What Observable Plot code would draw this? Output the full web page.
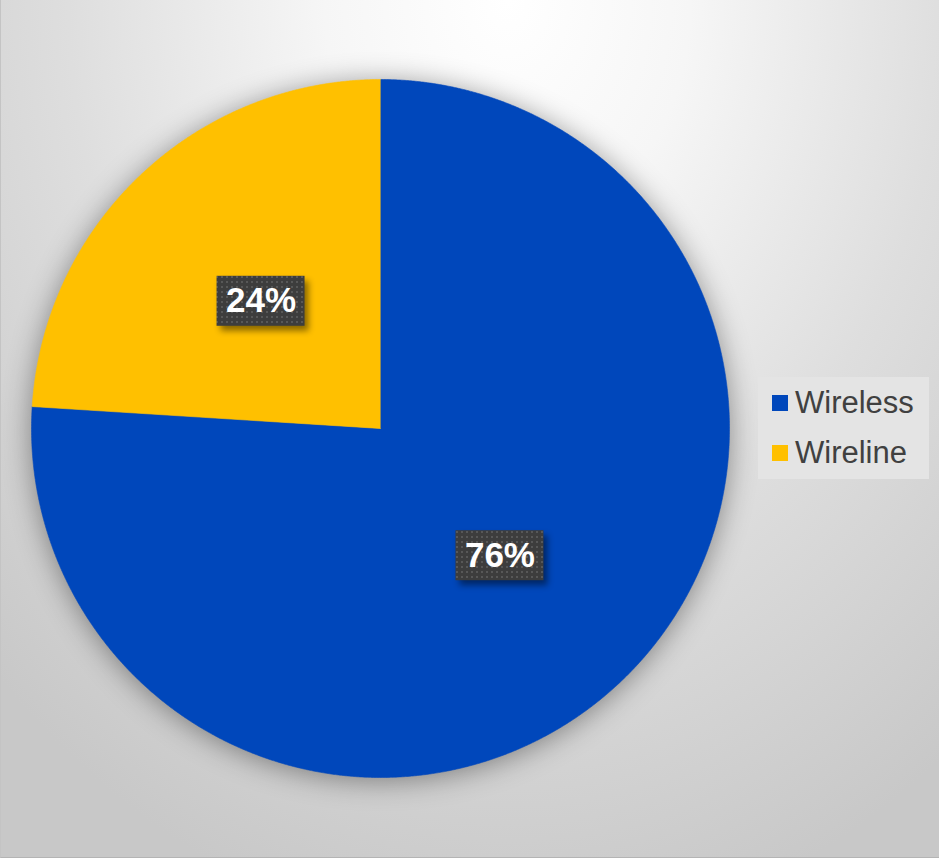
<!DOCTYPE html>
<html>
<head>
<meta charset="utf-8">
<script src="https://cdn.jsdelivr.net/npm/d3@7"></script>
<script src="https://cdn.jsdelivr.net/npm/@observablehq/plot@0.6"></script>
<style>
  html, body { margin: 0; padding: 0; background: #ffffff; }
  #frame {
    position: relative;
    width: 938px; height: 857px;
    border-left: 1px solid #c4c4c4;
    border-bottom: 1px solid #b4b4b4;
    background: radial-gradient(ellipse 78% 110% at 54% 0%, #ffffff 0%, #f6f6f6 25%, #dedede 60%, #c8c8c8 100%);
    overflow: hidden;
    font-family: "Liberation Sans", Arial, sans-serif;
  }
  #chart { position: absolute; left: -1px; top: 0; }
  #legend {
    position: absolute; left: 757px; top: 377px;
    width: 171px; height: 102px;
    background: #e4e4e4;
  }
  .item { position: absolute; left: 14px; height: 34px; display: flex; align-items: center; }
  .sw { width: 16px; height: 16px; margin-right: 7px; }
  .lab { font-size: 31px; color: #404040; line-height: 34px; }
</style>
</head>
<body>
<svg width="0" height="0" style="position:absolute">
  <defs>
    <pattern id="dotpat" width="5" height="5" patternUnits="userSpaceOnUse">
      <rect width="5" height="5" fill="#3d3d3d"></rect>
      <rect x="1" y="1" width="2" height="2" fill="#585858"></rect>
    </pattern>
  </defs>
</svg>
<div id="frame">
  <div id="chart"></div>
  <div id="legend"></div>
</div>
<script>
const categories = ["Wireless", "Wireline"];
const shares = [76, 24];
const colors = ["#0047BB", "#FFC000"];
const labels = ["76%", "24%"];

const rows = categories.map((c, i) => ({cat: c, value: shares[i], label: labels[i]}));
const arcs = d3.pie().sort(null).value(d => d.value).startAngle(0).endAngle(2 * Math.PI)(rows);

// polygon outline of each slice, derived from the pie angles
const pts = [];
for (const a of arcs) {
  pts.push({cat: a.data.cat, x: 0, y: 0});
  const n = Math.max(2, Math.ceil((a.endAngle - a.startAngle) / (Math.PI / 720)));
  for (let k = 0; k <= n; k++) {
    const t = a.startAngle + (a.endAngle - a.startAngle) * k / n;
    pts.push({cat: a.data.cat, x: Math.sin(t), y: Math.cos(t)});
  }
}

const R = 349; // px per unit
const hw = 44 / R, hh = 25 / R;
const lab = arcs.map(a => {
  const m = (a.startAngle + a.endAngle) / 2;
  return {label: a.data.label, x: 0.5 * Math.sin(m), y: 0.5 * Math.cos(m)};
});

const chart = Plot.plot({
  width: 939,
  height: 858,
  margin: 0,
  x: {domain: [-1, 1], range: [31, 729], axis: null},
  y: {domain: [-1, 1], range: [777, 79], axis: null},
  color: {domain: categories, range: colors},
  style: {background: "transparent", overflow: "visible", fontFamily: "'Liberation Sans', Arial, sans-serif"},
  marks: [
    Plot.line(pts, {x: "x", y: "y", z: "cat", fill: "cat", stroke: "cat", strokeWidth: 0.6, curve: "linear"}),
    Plot.rect(lab, {x1: d => d.x - hw, x2: d => d.x + hw, y1: d => d.y - hh, y2: d => d.y + hh, fill: "url(#dotpat)"}),
    Plot.text(lab, {x: "x", y: "y", text: "label", fill: "white", fontSize: 35, fontWeight: "bold"})
  ]
});

const pie = chart.querySelector('g[aria-label="line"]');
if (pie) pie.style.filter = "drop-shadow(0px 3px 14px rgba(0,0,0,0.4))";
const boxes = chart.querySelector('g[aria-label="rect"]');
if (boxes) boxes.style.filter = "drop-shadow(4px 5px 3px rgba(0,0,0,0.45))";
document.getElementById("chart").appendChild(chart);

const legend = d3.select("#legend");
categories.forEach((c, i) => {
  const it = legend.append("div").attr("class", "item").style("top", (18 + i * 50 - 9) + "px");
  it.append("div").attr("class", "sw").style("background", colors[i]);
  it.append("div").attr("class", "lab").text(c);
});
</script>
</body>
</html>
